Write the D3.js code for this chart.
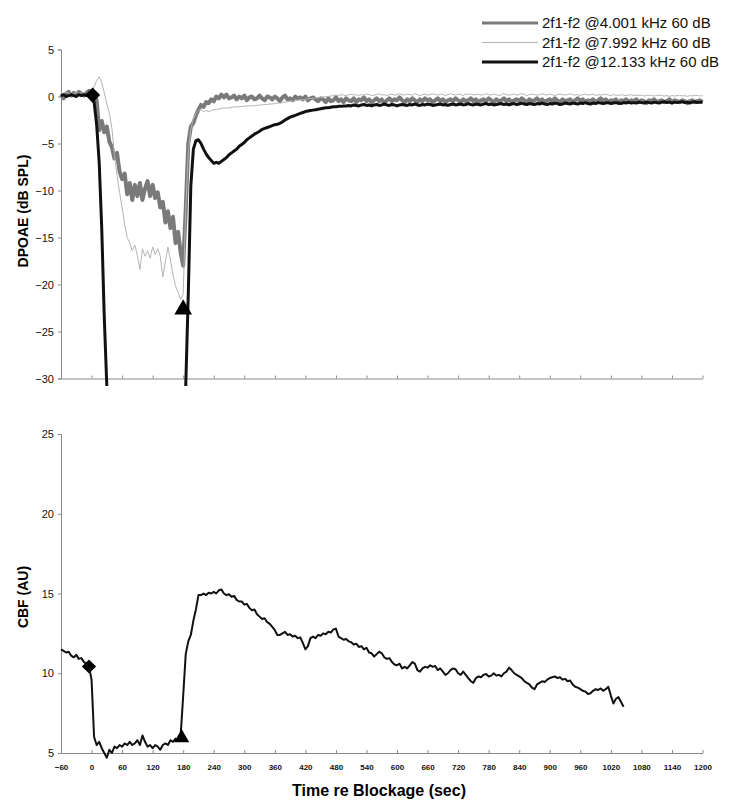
<!DOCTYPE html>
<meta charset="utf-8">
<script src="https://d3js.org/d3.v7.min.js"></script>
<style>
  body { margin: 0; background: #fff; }
  text { font-family: "Liberation Sans", Arial, sans-serif; }
</style>
<div id="chart"></div>
<script>

// sampling of the recordings (sec re blockage)
var sampleStart = -60,
  sampleStep = 5;

var xTicks = [-60, 0, 60, 120, 180, 240, 300, 360, 420, 480, 540, 600, 660, 720, 780, 840, 900, 960, 1020, 1080, 1140, 1200];
var dpTicks = [5, 0, -5, -10, -15, -20, -25, -30];
var cbfTicks = [5, 10, 15, 20, 25];

var legendLabels = ["2f1-f2 @4.001 kHz 60 dB", "2f1-f2 @7.992 kHz 60 dB", "2f1-f2 @12.133 kHz 60 dB"];

// DPOAE 4.001 kHz
var dp4001 = [
  0.2, -0.2, 0.3, 0.5, 0.1, 0.4, 0.2, 0.5, 0.3, 0.1, 0.4, 0.6, 0.3, 0.4, -0.4,
  -3.6, -2.6, -3.8, -3.2, -4.8, -5.4, -6.6, -6.0, -8.0, -8.8, -8.2, -10.4, -9.2, -11.0, -9.4,
  -10.6, -9.2, -11.0, -9.8, -9.0, -10.6, -9.4, -10.8, -10.2, -11.8, -11.2, -13.4, -12.2, -14.0, -12.8,
  -15.6, -14.4, -16.6, -18.0, -12.0, -5.0, -3.2, -2.8, -2.0, -1.4, -0.9, -1.1, -0.6, -0.7, -0.3,
  -0.5, 0.0, -0.2, 0.2, -0.1, 0.2, -0.2,
  -0.1, 0.1, -0.3, 0.0, -0.2, 0.1, -0.4, -0.1, 0.0, -0.3, -0.2, 0.1, -0.2, -0.4, 0.0, -0.1, -0.3, 0.0,
  -0.2, -0.5, -0.1, 0.1, -0.3, -0.2, -0.4, 0.0, -0.2, -0.1, -0.3, 0.0, -0.4, -0.2, -0.1, -0.3, -0.5, -0.2,
  -0.3, -0.6, -0.2, -0.5, -0.4, -0.1, -0.5, -0.3, -0.6, -0.2,
  -0.4, -0.5, -0.2, -0.6, -0.3, -0.4, -0.1, -0.5, -0.3, -0.6,
  -0.4, -0.2, -0.5, -0.3, -0.7, -0.4, -0.2, -0.5, -0.3, -0.4,
  -0.1, -0.4, -0.6, -0.3, -0.5, -0.2, -0.4, -0.6, -0.3, -0.5,
  -0.2, -0.4, -0.3, -0.6, -0.4, -0.2, -0.5, -0.3, -0.6, -0.4,
  -0.3, -0.5, -0.2, -0.4, -0.6, -0.3, -0.5, -0.4, -0.2, -0.5,
  -0.3, -0.6, -0.4, -0.3, -0.5, -0.2, -0.4, -0.6, -0.3, -0.5,
  -0.4, -0.2, -0.5, -0.3, -0.6, -0.4, -0.3, -0.5, -0.2, -0.4,
  -0.6, -0.3, -0.5, -0.4, -0.2, -0.5, -0.3, -0.6, -0.4, -0.3,
  -0.5, -0.2, -0.4, -0.6, -0.3, -0.5, -0.4, -0.3, -0.6, -0.4,
  -0.2, -0.5, -0.3, -0.6, -0.4, -0.5, -0.3, -0.6, -0.4, -0.2,
  -0.5, -0.3, -0.6, -0.4, -0.5, -0.3, -0.7, -0.4, -0.5, -0.3,
  -0.6, -0.4, -0.5, -0.3, -0.6, -0.4, -0.5, -0.7, -0.4, -0.5,
  -0.3, -0.6, -0.5, -0.4, -0.6, -0.5, -0.3, -0.6, -0.4, -0.5,
  -0.6, -0.4, -0.5, -0.7, -0.5, -0.4, -0.6, -0.5, -0.4, -0.6
];

// DPOAE 7.992 kHz
var dp7992 = [
  0.4, 0.3, 0.5, 0.3, 0.4, 0.2, 0.5, 0.3, 0.4, 0.3, 0.2, 0.4, 0.5, 1.0, 1.7,
  2.1, 1.5, 0.4, -0.8, -1.8, -3.4, -6.2, -8.4, -10.2, -11.8, -13.6, -15.0, -15.6, -16.4, -15.8,
  -16.9, -18.4, -16.2, -17.0, -16.4, -17.2, -16.0, -16.8, -16.2, -17.0, -19.2, -17.6, -16.0, -17.4, -19.0,
  -20.2, -20.8, -21.6, -21.0, -12.0, -6.0, -3.4, -2.4, -1.8, -1.5, -1.4, -1.6, -1.5, -1.6, -1.5,
  -1.4, -1.4, -1.3, -1.3, -1.2, -1.25, -1.2,
  -1.15, -1.1, -1.1, -1.1, -1.05, -1.05, -1.0, -1.0, -1.0, -0.95,
  -0.95, -0.9, -0.9, -0.85, -0.85, -0.8, -0.8, -0.75, -0.7, -0.7,
  -0.65, -0.6, -0.55, -0.5, -0.5, -0.45, -0.4, -0.35, -0.35, -0.3,
  -0.25, -0.2, -0.2, -0.15, -0.1, -0.1, -0.05, 0.0, 0.0, 0.05,
  0.1, 0.15, 0.1, 0.2, 0.15, 0.1, 0.2, 0.25, 0.15, 0.2,
  0.1, 0.2, 0.15, 0.25, 0.2, 0.1, 0.15, 0.2, 0.3, 0.15,
  0.2, 0.1, 0.2, 0.25, 0.15, 0.2, 0.3, 0.2, 0.15, 0.25,
  0.2, 0.15, 0.3, 0.2, 0.1, 0.2, 0.25, 0.15, 0.2, 0.3,
  0.2, 0.15, 0.25, 0.2, 0.1, 0.2, 0.3, 0.2, 0.15, 0.25,
  0.2, 0.1, 0.25, 0.2, 0.3, 0.15, 0.2, 0.25, 0.15, 0.2,
  0.3, 0.2, 0.15, 0.25, 0.2, 0.1, 0.2, 0.3, 0.2, 0.15,
  0.2, 0.25, 0.15, 0.2, 0.3, 0.2, 0.1, 0.2, 0.25, 0.2,
  0.15, 0.2, 0.3, 0.2, 0.15, 0.25, 0.2, 0.1, 0.2, 0.25,
  0.2, 0.15, 0.2, 0.3, 0.2, 0.15, 0.2, 0.1, 0.2, 0.25,
  0.15, 0.2, 0.25, 0.1, 0.2, 0.15, 0.2, 0.25, 0.15, 0.1,
  0.2, 0.15, 0.1, 0.2, 0.15, 0.1, 0.15, 0.2, 0.1, 0.15,
  0.1, 0.15, 0.05, 0.1, 0.15, 0.1, 0.05, 0.1, 0.15, 0.1,
  0.05, 0.1, 0.0, 0.1, 0.05, 0.1, 0.15, 0.05, 0.1, 0.0,
  0.1, 0.05, 0.15, 0.1, 0.05, 0.1
];

// DPOAE 12.133 kHz (null = below the plotted range)
var dp12133 = [
  0.1, 0.2, 0.0, 0.1, 0.2, 0.1, 0.0, 0.2, 0.1, 0.2, 0.1, 0.2, 0.2, -0.6, -3.0,
  -7.0, -14.0, -23.5, -30.8,
  null, null, null, null, null, null, null, null, null, null,
  null, null, null, null, null, null, null, null, null, null,
  null, null, null, null, null, null, null, null, null, null,
  -30.8, -21.0, -9.5, -5.6, -4.7, -4.6, -5.0, -5.6, -6.1, -6.5, -6.8,
  -7.1, -7.0, -7.1, -6.9, -6.7, -6.5, -6.2, -6.0, -5.8, -5.6, -5.3, -5.1, -4.9, -4.6,
  -4.4, -4.2, -4.0, -3.85, -3.7, -3.5, -3.4, -3.3, -3.2, -3.1, -3.0, -2.95, -2.85, -2.7,
  -2.5, -2.35, -2.2, -2.1, -2.0, -1.9, -1.8, -1.7, -1.6, -1.55, -1.5, -1.45, -1.4, -1.35,
  -1.3, -1.25, -1.2, -1.2, -1.15, -1.1, -1.1, -1.05, -1.05, -1.0, -1.0,
  -0.95, -1.0, -0.9, -0.95, -1.0, -0.9, -0.85, -0.95, -0.9, -1.0,
  -0.9, -0.85, -0.95, -0.9, -0.8, -0.9, -0.95, -0.85, -0.9, -1.0,
  -0.9, -0.85, -0.9, -0.95, -0.85, -0.9, -0.8, -0.9, -0.95, -0.85,
  -0.9, -0.8, -0.85, -0.95, -0.9, -0.85, -0.8, -0.9, -0.85, -0.95,
  -0.85, -0.8, -0.9, -0.85, -0.8, -0.9, -0.85, -0.75, -0.85, -0.9,
  -0.8, -0.85, -0.9, -0.8, -0.75, -0.85, -0.8, -0.9, -0.85, -0.8,
  -0.75, -0.85, -0.8, -0.9, -0.8, -0.75, -0.85, -0.8, -0.7, -0.8,
  -0.85, -0.75, -0.8, -0.85, -0.75, -0.8, -0.7, -0.8, -0.85, -0.75,
  -0.8, -0.7, -0.75, -0.85, -0.8, -0.7, -0.75, -0.8, -0.7, -0.75,
  -0.8, -0.7, -0.75, -0.65, -0.75, -0.8, -0.7, -0.75, -0.65, -0.7,
  -0.75, -0.7, -0.65, -0.75, -0.7, -0.65, -0.7, -0.75, -0.65, -0.7,
  -0.6, -0.7, -0.65, -0.7, -0.6, -0.65, -0.7, -0.6, -0.65, -0.7,
  -0.6, -0.65, -0.7, -0.6, -0.55, -0.65, -0.6, -0.7, -0.6, -0.65,
  -0.6, -0.55, -0.65, -0.6, -0.7, -0.6, -0.55, -0.65, -0.6, -0.6
];

// cochlear blood flow
var cbf = [
  11.5, 11.4, 11.3, 11.35, 11.1, 11.0, 11.15, 10.9, 10.95, 10.7, 10.6, 10.4, 9.6, 6.0, 5.5,
  5.7, 5.3, 5.0, 4.7, 5.2, 5.0, 5.4, 5.3, 5.5, 5.4, 5.6, 5.5, 5.7, 5.5, 5.6,
  5.8, 5.5, 6.1, 5.7, 5.4, 5.5, 5.3, 5.5, 5.4, 5.2, 5.5, 5.6, 5.5, 5.8, 5.7,
  5.9, 5.8, 6.1, 8.6, 11.2, 12.0, 12.4, 13.3, 14.0, 14.9, 14.9, 15.0, 14.9, 15.05, 15.0,
  15.1, 15.0, 15.2, 15.25, 15.0, 14.9, 14.95, 14.8, 14.85, 14.6, 14.5, 14.5, 14.3, 14.35, 14.1,
  13.95, 14.0, 13.7, 13.55, 13.4, 13.45, 13.2, 13.1, 12.9, 12.7, 12.4, 12.4, 12.5, 12.6, 12.4,
  12.45, 12.3, 12.35, 12.2, 12.25, 11.9, 11.5, 11.7, 12.2, 12.3, 12.2, 12.4, 12.35, 12.5, 12.45,
  12.6, 12.55, 12.75, 12.8, 12.3, 12.2, 12.1, 12.15, 12.0, 11.95, 11.8, 11.85, 11.65, 11.7, 11.5,
  11.6, 11.3, 11.25, 11.05, 11.2, 11.35, 11.25, 11.0, 10.9, 10.95, 10.7, 10.55, 10.5, 10.6, 10.3,
  10.4, 10.3, 10.5, 10.7, 10.6, 10.2, 10.1, 10.3, 10.4, 10.35, 10.5, 10.4, 10.45, 10.2, 10.3,
  10.1, 9.9, 10.0, 10.2, 10.3, 10.25, 10.0, 9.9, 10.1, 9.9, 9.7, 9.5, 9.4, 9.7, 9.8,
  9.75, 9.9, 9.95, 9.8, 9.85, 10.0, 9.85, 9.9, 9.8, 10.0, 10.1, 10.35, 10.2, 10.0, 9.9,
  9.8, 9.7, 9.5, 9.4, 9.3, 9.1, 9.0, 9.3, 9.4, 9.5, 9.45, 9.6, 9.7, 9.75, 9.8,
  9.7, 9.75, 9.6, 9.65, 9.5, 9.55, 9.3, 9.15, 9.1, 9.0, 8.9, 8.85, 8.7, 8.75, 8.9,
  9.0, 8.95, 9.05, 8.9, 9.0, 9.15, 8.6, 8.1, 8.4, 8.5, 8.2, 7.9
];

// onset (diamond) and release (triangle) of blockage
var dpMarkers = [{t: 2, v: 0.15, shape: "diamond"}, {t: 180, v: -22.65, shape: "triangle"}];
var cbfMarkers = [{t: -5, v: 10.42, shape: "diamond"}, {t: 177, v: 5.95, shape: "triangle"}];

var width = 744,
  height = 809;

var svg = d3.select("#chart")
  .append("svg")
    .attr("width", width)
    .attr("height", height);

var x = d3.scaleLinear().domain([-60, 1200]).range([61, 702.5]);
var yTop = d3.scaleLinear().domain([-30, 5]).range([378.5, 49.5]);
var yBot = d3.scaleLinear().domain([5, 25]).range([753, 434]);

function toPoints(values) {
  return values.map(function (v, i) { return {t: sampleStart + i * sampleStep, v: v}; });
}

function styleAxis(g) {
  g.select(".domain").attr("stroke", "#8a8a8a");
  g.selectAll(".tick line").attr("stroke", "#8a8a8a");
  g.selectAll(".tick text").attr("fill", "#111");
}

// axes - top panel
svg.append("g")
  .attr("transform", "translate(0,378.5)")
  .call(d3.axisBottom(x).tickValues(xTicks).tickSizeInner(-3).tickSizeOuter(0).tickFormat(""))
  .call(styleAxis);

svg.append("g")
  .attr("transform", "translate(61,0)")
  .call(d3.axisLeft(yTop).tickValues(dpTicks).tickSize(3).tickPadding(4).tickFormat(d3.format("d")))
  .call(styleAxis)
  .selectAll("text").style("font-size", "11px");

// axes - bottom panel
svg.append("g")
  .attr("transform", "translate(0,753)")
  .call(d3.axisBottom(x).tickValues(xTicks).tickSizeInner(-3).tickSizeOuter(0).tickPadding(11).tickFormat(d3.format("d")))
  .call(styleAxis)
  .selectAll("text")
    .style("font-size", "8px")
    .style("font-weight", "bold");

svg.append("g")
  .attr("transform", "translate(61,0)")
  .call(d3.axisLeft(yBot).tickValues(cbfTicks).tickSize(3).tickPadding(4))
  .call(styleAxis)
  .selectAll("text").style("font-size", "11px");

// axis titles
svg.append("text")
  .attr("transform", "translate(28,211) rotate(-90)")
  .attr("text-anchor", "middle")
  .style("font-size", "14px")
  .style("font-weight", "bold")
  .text("DPOAE (dB SPL)");

svg.append("text")
  .attr("transform", "translate(28,597) rotate(-90)")
  .attr("text-anchor", "middle")
  .style("font-size", "14px")
  .style("font-weight", "bold")
  .text("CBF (AU)");

svg.append("text")
  .attr("x", 379)
  .attr("y", 796)
  .attr("text-anchor", "middle")
  .style("font-size", "16px")
  .style("font-weight", "bold")
  .text("Time re Blockage (sec)");

// DPOAE lines
var dpLine = d3.line()
  .defined(function (d) { return d.v !== null; })
  .x(function (d) { return x(d.t); })
  .y(function (d) { return yTop(d.v); });

var dpSeries = [
  {values: dp4001, color: "#7a7a7a", width: 4},
  {values: dp7992, color: "#b4b4b4", width: 1},
  {values: dp12133, color: "#111", width: 3}
];

svg.selectAll("dplines")
  .data(dpSeries)
  .enter()
  .append("path")
    .attr("d", function (d) { return dpLine(toPoints(d.values)); })
    .attr("fill", "none")
    .attr("stroke", function (d) { return d.color; })
    .attr("stroke-width", function (d) { return d.width; })
    .attr("stroke-linejoin", "round");

// CBF line
var cbfLine = d3.line()
  .x(function (d) { return x(d.t); })
  .y(function (d) { return yBot(d.v); });

svg.append("path")
  .attr("d", cbfLine(toPoints(cbf)))
  .attr("fill", "none")
  .attr("stroke", "#111")
  .attr("stroke-width", 2)
  .attr("stroke-linejoin", "round");

// markers
function drawMarkers(data, y, diamondSize, triSize) {
  svg.selectAll(null)
    .data(data)
    .enter()
    .append("path")
      .attr("transform", function (d) {
        return "translate(" + x(d.t) + "," + y(d.v) + ")" + (d.shape === "diamond" ? " rotate(45)" : "");
      })
      .attr("d", function (d) {
        return d.shape === "diamond"
          ? d3.symbol().type(d3.symbolSquare).size(diamondSize)()
          : d3.symbol().type(d3.symbolTriangle).size(triSize)();
      })
      .attr("fill", "#000");
}
drawMarkers(dpMarkers, yTop, 115, 135);
drawMarkers(cbfMarkers, yBot, 100, 100);

// legend
var legend = svg.selectAll("legend")
  .data(dpSeries)
  .enter()
  .append("g")
    .attr("transform", function (d, i) { return "translate(482," + (23 + i * 19.5) + ")"; });

legend.append("line")
  .attr("x1", 0)
  .attr("x2", 56)
  .attr("stroke", function (d) { return d.color; })
  .attr("stroke-width", function (d) { return d.width === 1 ? 1 : 3; });

legend.append("text")
  .attr("x", 60)
  .attr("dy", "0.35em")
  .style("font-size", "15px")
  .attr("fill", "#111")
  .text(function (d, i) { return legendLabels[i]; });

</script>
